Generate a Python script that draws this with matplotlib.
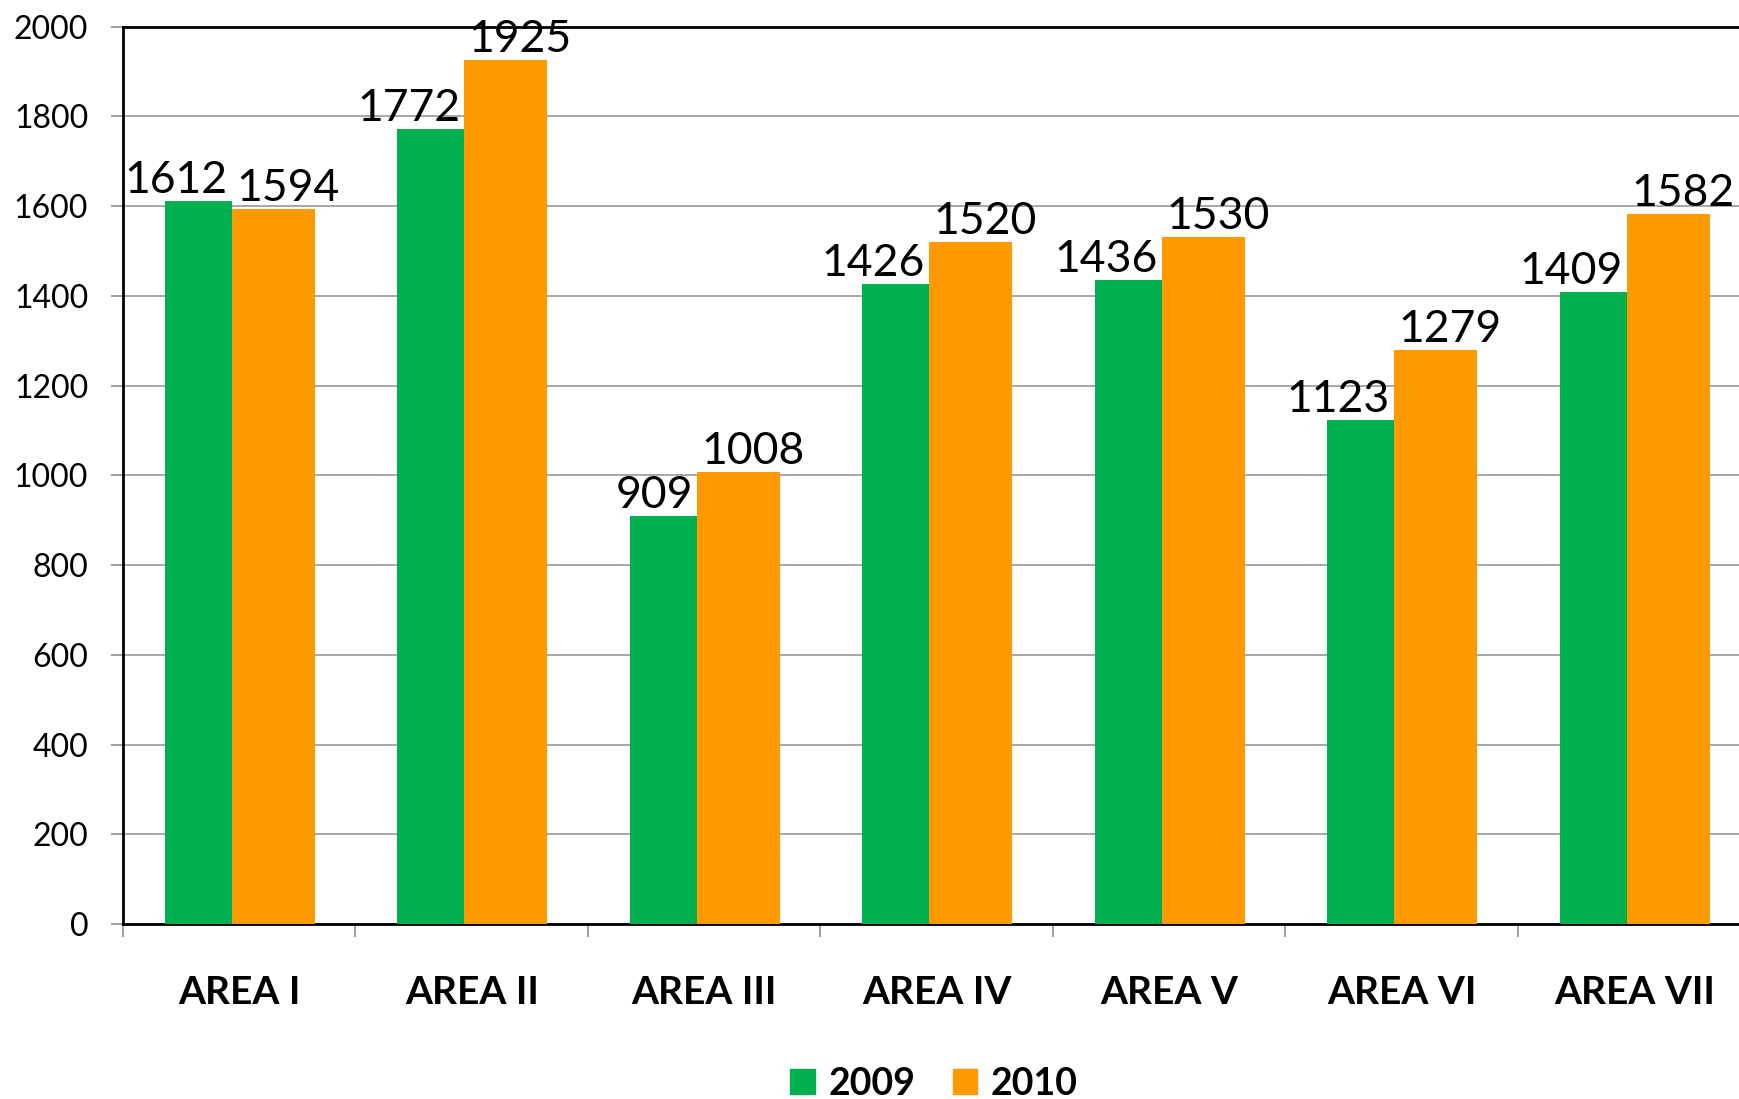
import numpy as np
import matplotlib
matplotlib.use("Agg")
import matplotlib.pyplot as plt
from matplotlib.patches import Patch

areas = ["AREA I", "AREA II", "AREA III", "AREA IV", "AREA V", "AREA VI", "AREA VII"]
valores_2009 = [1612, 1772, 909, 1426, 1436, 1123, 1409]
valores_2010 = [1594, 1925, 1008, 1520, 1530, 1279, 1582]
yticks = [0, 200, 400, 600, 800, 1000, 1200, 1400, 1600, 1800, 2000]

plt.rcParams['font.family'] = ['Lato', 'DejaVu Sans']

verde = "#00B050"
naranja = "#FF9900"

fig = plt.figure(figsize=(17.39, 10.99), dpi=100)
ax = fig.add_axes([0.0707, 0.1592, 0.9359, 0.8166])

x = np.arange(len(areas))
# barras verdes algo mas angostas que las naranjas, como en el original
ax.bar(x - 0.32, valores_2009, width=0.288, align='edge', color=verde, zorder=3)
ax.bar(x - 0.032, valores_2010, width=0.356, align='edge', color=naranja, zorder=3)

# etiquetas de datos
for i in range(len(areas)):
    ax.annotate(str(valores_2009[i]), (x[i] - 0.032, valores_2009[i]),
                xytext=(-3, 0), textcoords='offset points',
                ha='right', va='bottom', fontsize=32, zorder=4)
    ax.annotate(str(valores_2010[i]), (x[i] - 0.032, valores_2010[i]),
                xytext=(3, 0), textcoords='offset points',
                ha='left', va='bottom', fontsize=32, zorder=4)

ax.set_xlim(-0.5, len(areas) - 0.5)
ax.set_ylim(0, 2000)
ax.set_yticks(yticks)
ax.set_yticklabels([str(t) for t in yticks], fontsize=23)
ax.tick_params(axis='y', length=9, width=1.2, color='#909090', pad=16)

ax.set_xticks(x)
ax.set_xticklabels(areas, fontsize=28, fontweight='bold')
ax.tick_params(axis='x', which='major', length=0, pad=37)
ax.set_xticks(np.arange(-0.5, len(areas)), minor=True)
ax.tick_params(axis='x', which='minor', length=9, width=1.2, color='#909090')

ax.grid(axis='y', color='#a0a0a0', linewidth=1.3, zorder=0)
ax.set_axisbelow(True)

for lado in ['left', 'top', 'bottom']:
    ax.spines[lado].set_color('black')
    ax.spines[lado].set_linewidth(2)
ax.spines['right'].set_visible(False)

handles = [Patch(color=verde, label='2009'), Patch(color=naranja, label='2010')]
fig.legend(handles=handles, loc='center', bbox_to_anchor=(0.537, 0.014),
           ncol=2, frameon=False, prop={'size': 27, 'weight': 'bold'},
           handlelength=0.66, handleheight=0.66, handletextpad=0.35, columnspacing=1.0)

plt.savefig("out.png", dpi=100)
